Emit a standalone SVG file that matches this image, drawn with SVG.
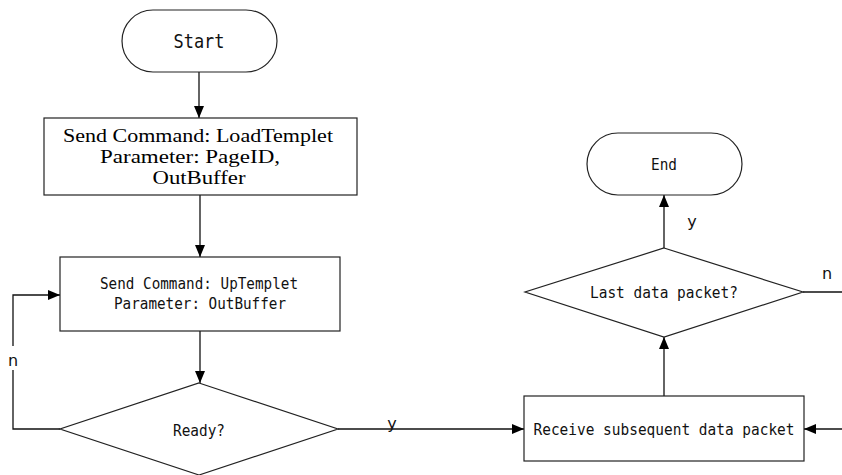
<svg xmlns="http://www.w3.org/2000/svg" width="842" height="475" viewBox="0 0 842 475">
<style>
.shape{fill:#fff;stroke:#222;stroke-width:1.2}
.conn{fill:none;stroke:#111;stroke-width:1.3}
.mono{font-family:"DejaVu Sans Mono",monospace;font-size:16.5px;fill:#111;text-anchor:middle}
.big{font-family:"DejaVu Sans Mono",monospace;font-size:20px;fill:#111;text-anchor:middle}
.serif{font-family:"Liberation Serif",serif;font-size:19px;fill:#000;text-anchor:middle}
.lbl{font-family:"DejaVu Sans",sans-serif;font-size:16px;fill:#111;text-anchor:middle}
</style>
<defs>
<marker id="ah" viewBox="0 0 12 10" refX="12" refY="5" markerWidth="12" markerHeight="10" markerUnits="userSpaceOnUse" orient="auto">
<path d="M0,0 L12,5 L0,10 Z" fill="#000"/>
</marker>
</defs>
<rect width="842" height="475" fill="#fff"/>
<g id="connectors">
<line class="conn" x1="199" y1="72" x2="199" y2="118" marker-end="url(#ah)"/>
<line class="conn" x1="200" y1="195" x2="200" y2="257" marker-end="url(#ah)"/>
<line class="conn" x1="200" y1="331" x2="200" y2="383" marker-end="url(#ah)"/>
<polyline class="conn" points="60,429 13,429 13,295 60,295" marker-end="url(#ah)"/>
<line class="conn" x1="338" y1="429" x2="524" y2="429" marker-end="url(#ah)"/>
<line class="conn" x1="842" y1="429" x2="804" y2="429" marker-end="url(#ah)"/>
<line class="conn" x1="664" y1="396" x2="664" y2="337" marker-end="url(#ah)"/>
<line class="conn" x1="664" y1="248" x2="664" y2="195" marker-end="url(#ah)"/>
<line class="conn" x1="803" y1="292" x2="842" y2="292"/>
<rect x="5" y="346" width="16" height="24" fill="#fff"/>
<text class="lbl" x="13" y="366">n</text>
<text class="lbl" x="392" y="429">y</text>
<text class="lbl" x="692" y="227">y</text>
<text class="lbl" x="827" y="279">n</text>
</g>
<g id="start">
<rect class="shape" x="122" y="10" width="155" height="62" rx="31"/>
<text class="big" x="199" y="48" textLength="51" lengthAdjust="spacingAndGlyphs">Start</text>
</g>
<g id="loadTemplet">
<rect class="shape" x="44" y="118" width="313" height="77"/>
<text class="serif" x="198" y="142" textLength="270" lengthAdjust="spacingAndGlyphs">Send Command: LoadTemplet</text>
<text class="serif" x="190" y="163" textLength="180" lengthAdjust="spacingAndGlyphs">Parameter: PageID,</text>
<text class="serif" x="199" y="184" textLength="93" lengthAdjust="spacingAndGlyphs">OutBuffer</text>
</g>
<g id="upTemplet">
<rect class="shape" x="60" y="257" width="280" height="74"/>
<text class="mono" x="199" y="289" textLength="198" lengthAdjust="spacingAndGlyphs">Send Command: UpTemplet</text>
<text class="mono" x="200" y="309" textLength="172" lengthAdjust="spacingAndGlyphs">Parameter: OutBuffer</text>
</g>
<g id="ready">
<polygon class="shape" points="199,383 338,429 199,475 60,429"/>
<text class="mono" x="199" y="436" textLength="52" lengthAdjust="spacingAndGlyphs">Ready?</text>
</g>
<g id="receive">
<rect class="shape" x="524" y="396" width="280" height="65"/>
<text class="mono" x="664" y="435" textLength="261" lengthAdjust="spacingAndGlyphs">Receive subsequent data packet</text>
</g>
<g id="lastPacket">
<polygon class="shape" points="664,248 803,292 664,337 525,292"/>
<text class="mono" x="664" y="298" textLength="148" lengthAdjust="spacingAndGlyphs">Last data packet?</text>
</g>
<g id="end">
<rect class="shape" x="587" y="133" width="155" height="62" rx="31"/>
<text class="mono" x="664" y="170" textLength="26" lengthAdjust="spacingAndGlyphs">End</text>
</g>
</svg>
